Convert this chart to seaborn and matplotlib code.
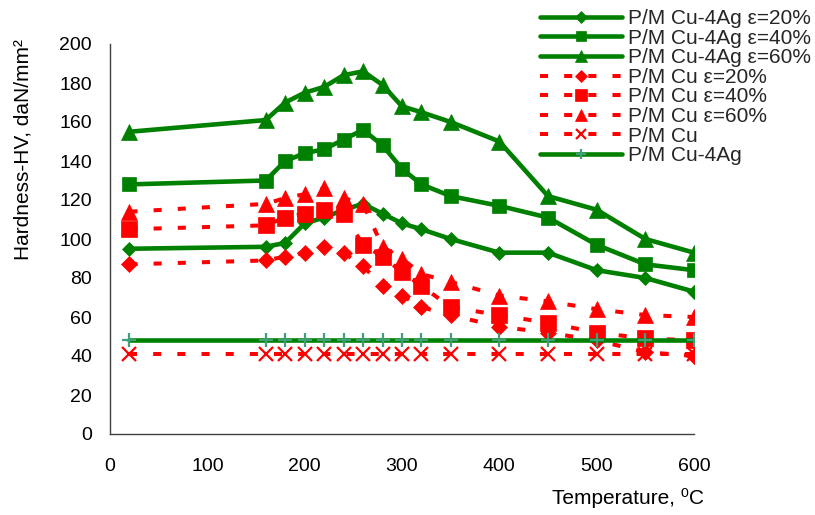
import matplotlib
matplotlib.use("Agg")
import matplotlib.pyplot as plt
import seaborn as sns
import pandas as pd

# Annealing temperature (°C)
temps = [20, 160, 180, 200, 220, 240, 260, 280, 300, 320, 350, 400, 450, 500, 550, 600]

# Hardness HV (daN/mm²) of each material / deformation state
cu4ag_20 = [95, 96, 98, 108, 111, 115, 118, 113, 108, 105, 100, 93, 93, 84, 80, 73]
cu4ag_40 = [128, 130, 140, 144, 146, 151, 156, 148, 136, 128, 122, 117, 111, 97, 87, 84]
cu4ag_60 = [155, 161, 170, 175, 178, 184, 186, 179, 168, 165, 160, 150, 122, 115, 100, 93]
cu_20 = [87, 89, 91, 93, 96, 93, 86, 76, 71, 65, 61, 55, 52, 48, 42, 40]
cu_40 = [105, 107, 111, 113, 115, 113, 97, 91, 83, 76, 65, 61, 57, 52, 49, 48]
cu_60 = [114, 118, 121, 123, 126, 121, 118, 96, 90, 82, 78, 71, 68, 64, 61, 60]
cu_ann = [41, 41, 41, 41, 41, 41, 41, 41, 41, 41, 41, 41, 41, 41, 41, 41]
cu4ag_ann = [48, 48, 48, 48, 48, 48, 48, 48, 48, 48, 48, 48, 48, 48, 48, 48]

labels = [
    "P/M Cu-4Ag ε=20%", "P/M Cu-4Ag ε=40%", "P/M Cu-4Ag ε=60%",
    "P/M Cu ε=20%", "P/M Cu ε=40%", "P/M Cu ε=60%",
    "P/M Cu", "P/M Cu-4Ag",
]
series = [cu4ag_20, cu4ag_40, cu4ag_60, cu_20, cu_40, cu_60, cu_ann, cu4ag_ann]

GREEN = "#008000"
RED = "#FF0000"
TEAL = "#3f9f7a"
DASH = (0, (2, 4))

styles = [
    dict(color=GREEN, marker="D", markersize=7.6, linestyle="-", linewidth=3.3),
    dict(color=GREEN, marker="s", markersize=10.5, linestyle="-", linewidth=3.3),
    dict(color=GREEN, marker="^", markersize=11, linestyle="-", linewidth=3.3),
    dict(color=RED, marker="D", markersize=8.4, linestyle=DASH, linewidth=2.9),
    dict(color=RED, marker="s", markersize=11.5, linestyle=DASH, linewidth=2.9),
    dict(color=RED, marker="^", markersize=12, linestyle=DASH, linewidth=2.9),
    dict(color=RED, marker="x", markersize=10, linestyle=DASH, linewidth=2.9,
         markeredgewidth=1.6),
    dict(color=GREEN, marker="+", markersize=10, linestyle="-", linewidth=3.3,
         markeredgewidth=1.6, markeredgecolor=TEAL),
]

frames = []
for lab, vals in zip(labels, series):
    frames.append(pd.DataFrame({"Temperature": temps, "Hardness": vals, "Material": lab}))
df = pd.concat(frames, ignore_index=True)

sns.set_theme(style="white")
plt.rcParams["font.family"] = ["Liberation Sans", "DejaVu Sans"]

fig = plt.figure(figsize=(8.15, 5.15), dpi=100)
ax = fig.add_axes([110 / 815, 1 - 434 / 515, 584 / 815, 390 / 515])

for lab, st in zip(labels, styles):
    st = dict(st)
    st.setdefault("markeredgecolor", st["color"])
    st.setdefault("markeredgewidth", 0.5)
    sub = df[df["Material"] == lab]
    sns.lineplot(data=sub, x="Temperature", y="Hardness", ax=ax, label=lab,
                 sort=False, **st)

ax.set_xlim(0, 600)
ax.set_ylim(0, 200)
ax.set_xticks(range(0, 601, 100))
ax.set_yticks(range(0, 201, 20))
ax.set_xlabel("")
ax.set_ylabel("")
for side in ("top", "right"):
    ax.spines[side].set_visible(False)
for side in ("left", "bottom"):
    ax.spines[side].set_color("#404040")
    ax.spines[side].set_linewidth(1.0)
ax.tick_params(axis="x", direction="out", length=5, width=1, color="#404040",
               pad=12, labelsize=14, labelcolor="black")
ax.tick_params(axis="y", direction="out", length=5, width=1, color="#404040",
               pad=8, labelsize=14, labelcolor="black")
ax.grid(False)
ax.set_facecolor("white")

fig.text(23 / 815, 1 - 150 / 515, "Hardness-HV, daN/mm²", rotation=90,
         ha="center", va="center", fontsize=15, color="black")
fig.text(704 / 815, 1 - 498 / 515, "Temperature, ⁰C", ha="right", va="center",
         fontsize=15, color="black")

handles, hlabels = ax.get_legend_handles_labels()
leg = fig.legend(handles, hlabels, loc="upper left",
                 bbox_to_anchor=(540 / 815, 1 - 9 / 515),
                 frameon=False, fontsize=15, handlelength=3.95,
                 handletextpad=0.28, labelspacing=0.03, borderpad=0,
                 borderaxespad=0, markerscale=0.75, numpoints=1)
if ax.get_legend() is not None:
    ax.get_legend().remove()

fig.savefig("out.png", dpi=100, facecolor="white")
